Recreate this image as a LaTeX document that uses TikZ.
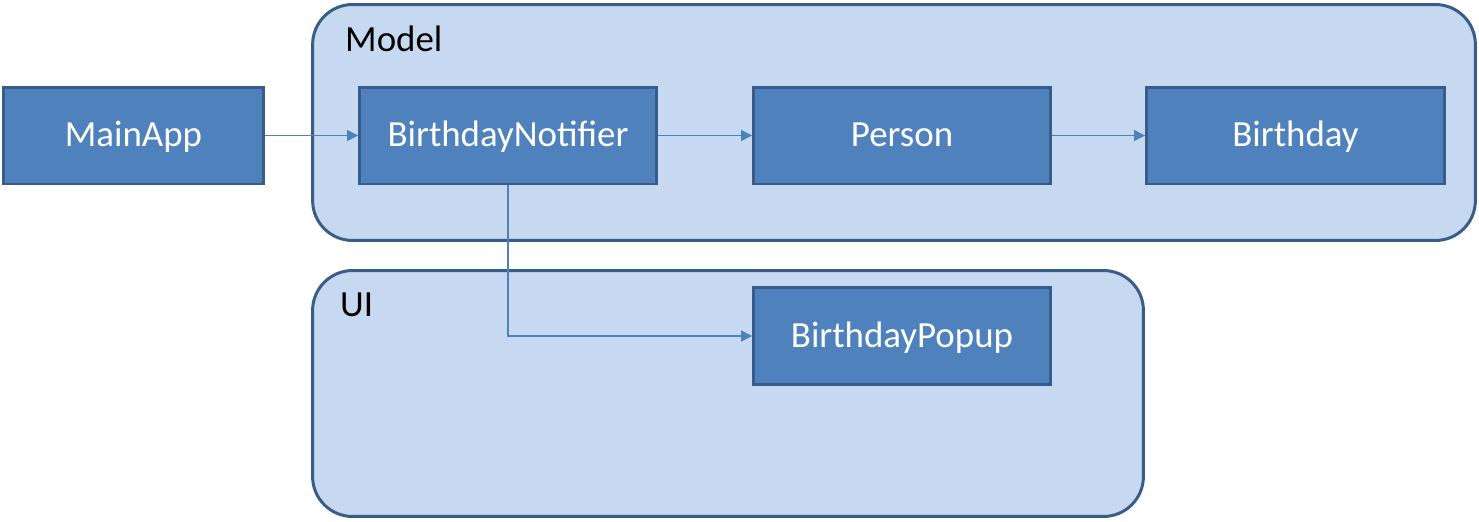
\documentclass[tikz,border=0pt]{standalone}
\usepackage{fontspec}
\setmainfont{Carlito}
\usepackage{xcolor}
\usetikzlibrary{arrows.meta}

\definecolor{boxfill}{HTML}{4F81BD}
\definecolor{boxline}{HTML}{385D8A}
\definecolor{groupfill}{HTML}{C6D9F1}

\begin{document}
\begin{tikzpicture}[x=0.02cm, y=-0.02cm,
    group/.style={draw=boxline, fill=groupfill, line width=1.7pt, rounded corners=0.8cm, inner sep=0pt},
    comp/.style={draw=boxline, fill=boxfill, line width=1.7pt, text=white, inner sep=0pt,
        minimum height=1.94cm, text height=16pt, text depth=3pt, font=\fontsize{21}{25}\selectfont},
    link/.style={draw=boxfill, line width=0.75pt, -{Triangle[length=0.22cm, width=0.22cm]}}]
			\useasboundingbox (0, 0) rectangle (1479, 521);
			
			% Groups
			\node[group, minimum width=23.26cm, minimum height=4.72cm] (model) at (894, 122.5) {};
			\node[group, minimum width=16.62cm, minimum height=4.92cm] (ui) at (728, 393.5) {};
			\node[anchor=base west, font=\fontsize{21}{25}\selectfont] (modelLabel) at (339, 51) {Model};
			\node[anchor=base west, font=\fontsize{21}{25}\selectfont] (uiLabel) at (334, 316) {UI};
			
			% Components
			\node[comp, minimum width=5.2cm] (mainApp) at (133.5, 135.5) {MainApp};
			\node[comp, minimum width=5.94cm] (notifier) at (508, 135.5) {BirthdayNotifier};
			\node[comp, minimum width=5.94cm] (person) at (902, 135.5) {Person};
			\node[comp, minimum width=5.96cm] (birthday) at (1295.5, 135.5) {Birthday};
			\node[comp, minimum width=5.94cm] (popup) at (902, 336) {BirthdayPopup};
			
			% Links
			\draw[link] (mainApp) -- (notifier);
			\draw[link] (notifier) -- (person);
			\draw[link] (person) -- (birthday);
			\draw[link] (notifier.south) |- (popup.west);
		\end{tikzpicture}
\end{document}
